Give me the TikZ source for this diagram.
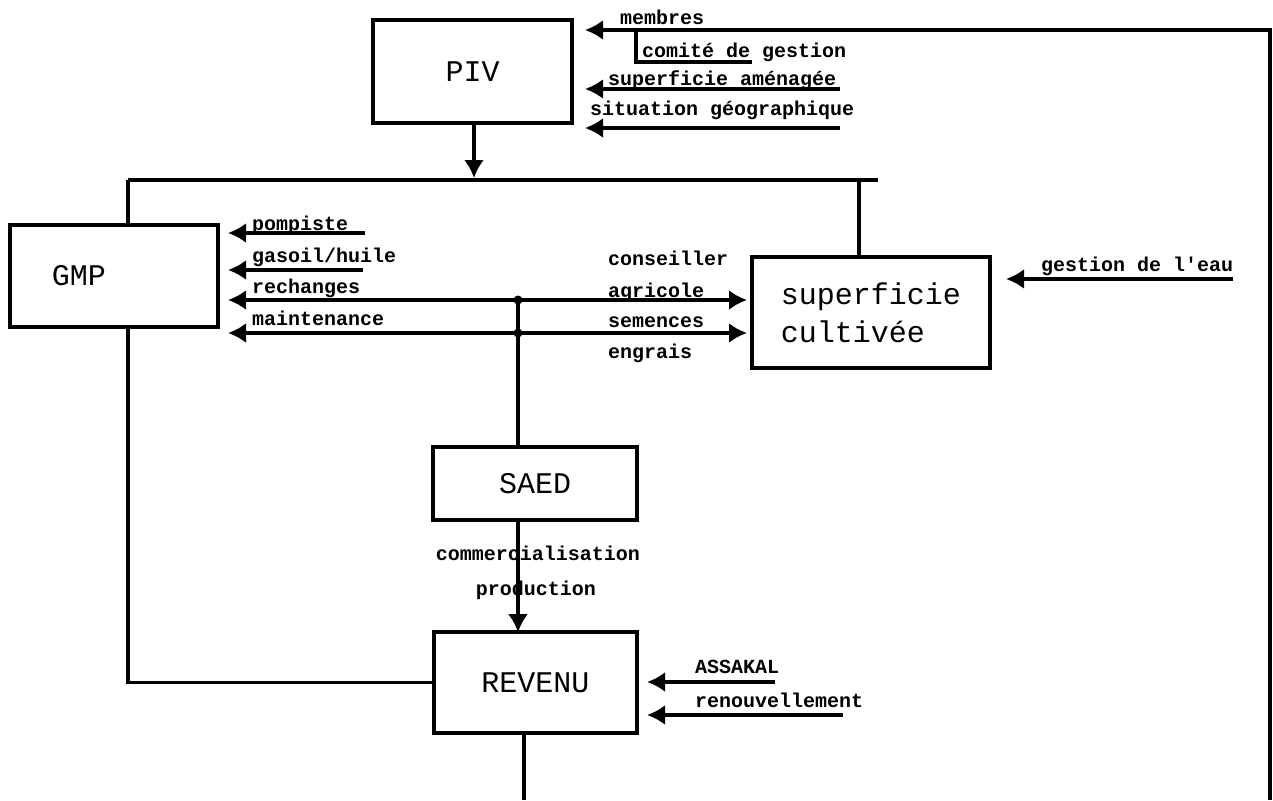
\documentclass[tikz,border=0pt]{standalone}
\usepackage{fontspec}
\setmonofont{Liberation Mono}
\newfontfamily\boxfont{Liberation Mono}
\usetikzlibrary{arrows.meta}
\tikzset{
  ln/.style={line width=3.4pt},
  tip/.tip={Latex[length=18pt,width=20pt]},
  arr/.style={ln,-tip},
  darr/.style={ln,tip-tip},
  boxn/.style={draw,line width=3.6pt,rectangle,inner sep=0pt,font=\boxfont\fontsize{30}{38}\selectfont},
  lab/.style={anchor=base west,inner sep=0pt,font=\ttfamily\bfseries\fontsize{20}{24}\selectfont},
  labc/.style={anchor=base,inner sep=0pt,font=\ttfamily\bfseries\fontsize{20}{24}\selectfont},
  dot/.style={circle,fill,inner sep=0pt,minimum size=9pt}
}
\begin{document}
\begin{tikzpicture}[x=1pt,y=-1pt]
\useasboundingbox (0,0) rectangle (1273,800);
% boxes
\node[boxn,minimum width=199pt,minimum height=103pt] (piv) at (472.5,71.5) {PIV};
\node[boxn,minimum width=208pt,minimum height=102pt] (gmp) at (114,276) {GMP\hspace*{70pt}};
\node[boxn,minimum width=238pt,minimum height=111pt,align=left] (sup) at (871,312.5) {superficie\\cultivée};
\node[boxn,minimum width=204pt,minimum height=73pt] (saed) at (535,483.5) {SAED};
\node[boxn,minimum width=203pt,minimum height=101pt] (rev) at (535.5,682.5) {REVENU};
% coordinates
\coordinate (tl) at (128,180);
\coordinate (tr) at (878,180);
\coordinate (sj) at (859,180);
\coordinate (rb) at (1270,800);
\coordinate (memT) at (585,30);
\coordinate (comA) at (636,30);
\coordinate (comB) at (752,62);
\coordinate (supaS) at (840,89);
\coordinate (supaT) at (585,89);
\coordinate (sitS) at (840,128);
\coordinate (sitT) at (585,128);
\coordinate (pomS) at (365,233);
\coordinate (pomT) at (228,233);
\coordinate (gasS) at (363,270);
\coordinate (gasT) at (228,270);
\coordinate (recL) at (228,300);
\coordinate (recR) at (747,300);
\coordinate (mntL) at (228,333);
\coordinate (mntR) at (747,333);
\coordinate (eauS) at (1233,279);
\coordinate (eauT) at (1006,279);
\coordinate (assS) at (775,682);
\coordinate (assT) at (647,682);
\coordinate (renS) at (843,715);
\coordinate (renT) at (647,715);
\coordinate (rbot) at (524,800);
\node[dot] (j1) at (518,300) {};
\node[dot] (j2) at (518,333) {};
% top structure
\draw[arr] (piv.south -| 474,0) -- (474,178);
\draw[ln] (tl) -- (tr);
\draw[ln] (tl) -- (tl |- gmp.north);
\draw[ln] (sj) -- (sj |- sup.north);
\draw[ln] (tl |- gmp.south) -- (tl |- rev.west) -- (rev.west);
% PIV inputs
\draw[arr] (rb) |- (memT);
\draw[ln] (comA) |- (comB);
\draw[arr] (supaS) -- (supaT);
\draw[arr] (sitS) -- (sitT);
% GMP inputs
\draw[arr] (pomS) -- (pomT);
\draw[arr] (gasS) -- (gasT);
\draw[darr] (recL) -- (recR);
\draw[darr] (mntL) -- (mntR);
\draw[ln] (j1.center) -- (j2.center) -- (j2 |- saed.north);
\draw[arr] (j2 |- saed.south) -- ([yshift=-2pt]j2 |- rev.north);
% right inputs
\draw[arr] (eauS) -- (eauT);
\draw[arr] (assS) -- (assT);
\draw[arr] (renS) -- (renT);
\draw[ln] (rbot |- rev.south) -- (rbot);
% labels
\node[lab] (lmem) at (620,25) {membres};
\node[lab] (lcom) at (642,57) {comité de gestion};
\node[lab] (lsupa) at (608,85) {superficie aménagée};
\node[lab] (lsit) at (590,115) {situation géographique};
\node[lab] (lpom) at (252,230) {pompiste};
\node[lab] (lgas) at (252,262) {gasoil/huile};
\node[lab] (lrec) at (252,293) {rechanges};
\node[lab] (lmnt) at (252,325) {maintenance};
\node[lab] (lcon) at (608,265) {conseiller};
\node[lab] (lagr) at (608,297) {agricole};
\node[lab] (lsem) at (608,327) {semences};
\node[lab] (leng) at (608,358) {engrais};
\node[lab] (leau) at (1041,271) {gestion de l'eau};
\node[labc] (lcomm) at (538,560) {commercialisation};
\node[labc] (lprod) at (536,595) {production};
\node[lab] (lass) at (695,673) {ASSAKAL};
\node[lab] (lren) at (695,707) {renouvellement};
\end{tikzpicture}
\end{document}
